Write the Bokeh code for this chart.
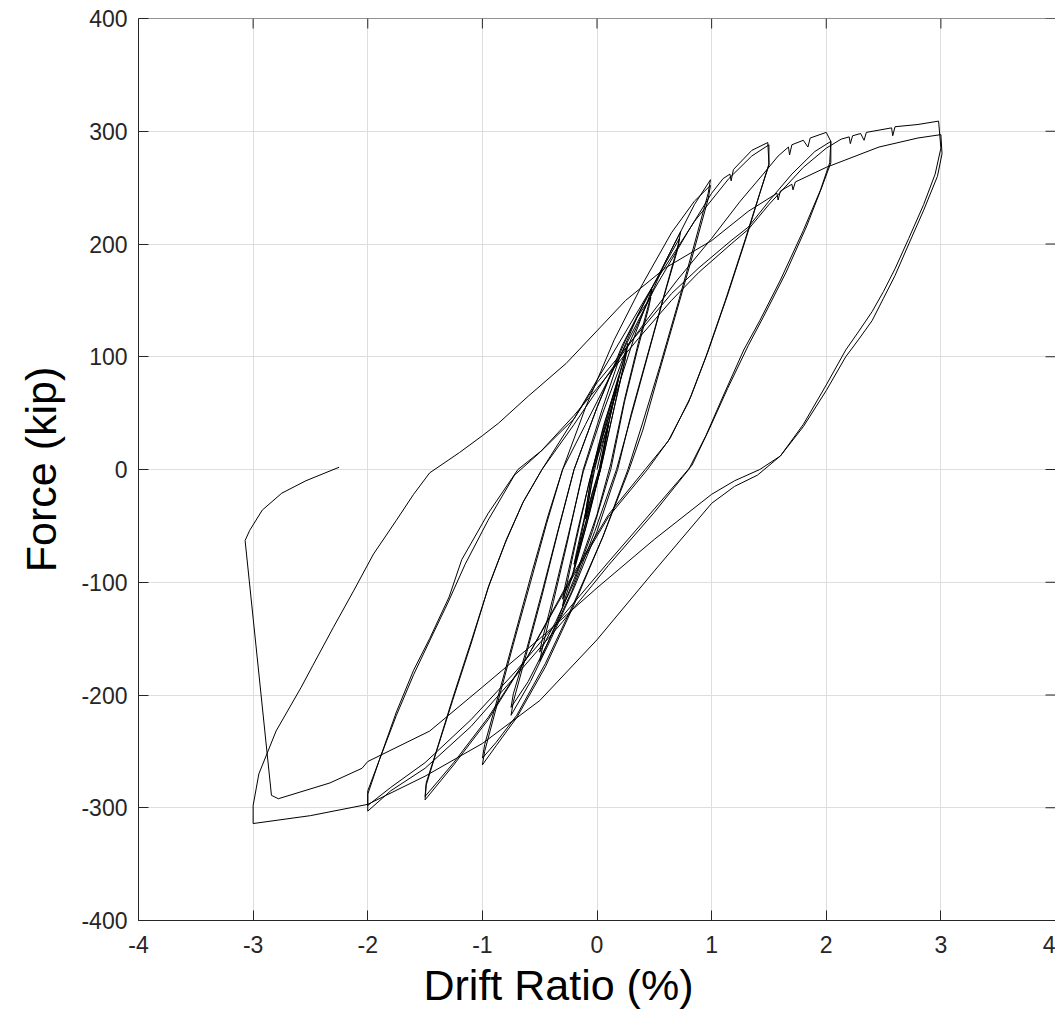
from bokeh.plotting import figure
from bokeh.models import Range1d, FixedTicker, LinearAxis, Span, Title
from bokeh.embed import file_html
from bokeh.resources import INLINE

# ---------------- data: (drift ratio %, force kip) ----------------
loops_010_030 = [
    (0.00, 0), (0.05, 22), (0.10, 42), (0.09, 36), (0.05, 16), (0.02, 0), (-0.04, -22), (-0.10, -44),
    (-0.09, -38), (-0.06, -20), (-0.03, 0), (0.04, 22), (0.10, 40), (0.09, 34), (0.05, 14), (0.02, 0),
    (-0.04, -20), (-0.10, -42), (-0.09, -36), (-0.05, -15), (-0.02, 0),
    (0.06, 35), (0.19, 82), (0.17, 72), (0.10, 40), (0.03, 0), (-0.08, -40), (-0.20, -88), (-0.18, -78),
    (-0.11, -45), (-0.04, 0), (0.06, 40), (0.18, 78), (0.16, 68), (0.09, 35), (0.03, 0), (-0.09, -44),
    (-0.20, -84), (-0.18, -74), (-0.10, -38), (-0.04, 0),
    (0.10, 45), (0.27, 112), (0.25, 100), (0.15, 55), (0.05, 8), (-0.08, -45), (-0.20, -90),
    (-0.30, -121), (-0.28, -110), (-0.18, -62), (-0.07, -12), (0.06, 38), (0.18, 80), (0.26, 106),
    (0.24, 95), (0.14, 50), (0.04, 5), (-0.10, -52), (-0.22, -95), (-0.30, -115), (-0.28, -104),
    (-0.16, -50), (-0.06, -8),
]
loops_050 = [
    (0.05, 30), (0.20, 78), (0.34, 122), (0.48, 160), (0.46, 150), (0.36, 112), (0.24, 62), (0.12, 5),
    (0.00, -40), (-0.18, -92), (-0.35, -135), (-0.50, -170), (-0.48, -160), (-0.38, -117), (-0.26, -65),
    (-0.12, 0), (0.05, 55), (0.20, 100), (0.35, 135), (0.47, 153), (0.45, 143), (0.35, 105), (0.24, 60),
    (0.12, 0), (-0.04, -55), (-0.20, -100), (-0.36, -135), (-0.50, -162), (-0.48, -152), (-0.37, -108),
    (-0.25, -58), (-0.12, -2),
]
loops_075 = [
    (0.05, 50), (0.25, 105), (0.45, 150), (0.60, 185), (0.73, 211), (0.71, 200), (0.60, 160), (0.45, 105),
    (0.30, 50), (0.18, 0), (0.00, -55), (-0.20, -105), (-0.40, -150), (-0.58, -188), (-0.75, -218),
    (-0.73, -206), (-0.62, -165), (-0.48, -112), (-0.34, -55), (-0.20, 0), (0.00, 55), (0.22, 110),
    (0.42, 150), (0.58, 180), (0.72, 205), (0.70, 194), (0.58, 152), (0.44, 100), (0.30, 48), (0.17, 0),
    (-0.02, -55), (-0.22, -108), (-0.42, -152), (-0.60, -188), (-0.75, -211), (-0.73, -199),
    (-0.61, -158), (-0.47, -105), (-0.33, -50), (-0.20, 0),
]
loops_100 = [
    (0.00, 55), (0.25, 115), (0.50, 165), (0.70, 205), (0.85, 235), (0.99, 257), (0.97, 245), (0.85, 200),
    (0.70, 145), (0.55, 92), (0.40, 42), (0.27, 0), (0.05, -60), (-0.20, -120), (-0.45, -175),
    (-0.70, -220), (-0.88, -245), (-1.00, -262), (-0.98, -250), (-0.87, -208), (-0.73, -155),
    (-0.58, -100), (-0.44, -48), (-0.30, 0), (-0.10, 55), (0.15, 115), (0.40, 165), (0.65, 210),
    (0.85, 238), (0.99, 252), (0.97, 240), (0.84, 192), (0.68, 135), (0.53, 82), (0.40, 35), (0.28, 0),
    (0.05, -60), (-0.20, -118), (-0.45, -172), (-0.70, -218), (-0.88, -242), (-1.00, -256),
    (-0.98, -244), (-0.86, -200), (-0.72, -148), (-0.57, -92), (-0.43, -42), (-0.30, 0),
]
loops_150 = [
    (-0.10, 40), (0.20, 100), (0.50, 160), (0.80, 212), (1.00, 245), (1.10, 258), (1.16, 262), (1.17, 256),
    (1.19, 266), (1.35, 283), (1.49, 290), (1.50, 271), (1.42, 245), (1.28, 200), (1.12, 150),
    (0.95, 100), (0.80, 60), (0.62, 25), (0.42, 0), (0.10, -40), (-0.25, -100), (-0.60, -165),
    (-0.95, -222), (-1.25, -262), (-1.50, -293), (-1.49, -280), (-1.40, -250), (-1.26, -205),
    (-1.10, -155), (-0.95, -105), (-0.80, -65), (-0.65, -30), (-0.48, 0), (-0.20, 45), (0.15, 105),
    (0.50, 165), (0.85, 220), (1.15, 258), (1.35, 278), (1.50, 288), (1.50, 270), (1.43, 248),
    (1.30, 205), (1.14, 155), (0.97, 105), (0.82, 65), (0.64, 28), (0.44, 0), (0.10, -42),
    (-0.25, -102), (-0.60, -165), (-0.95, -220), (-1.25, -260), (-1.50, -290), (-1.49, -278),
    (-1.39, -246), (-1.25, -200), (-1.09, -150), (-0.94, -102), (-0.79, -62), (-0.64, -28), (-0.48, 0),
]
loops_200 = [
    (-0.20, 40), (0.10, 85), (0.40, 128), (0.70, 168), (1.00, 205), (1.25, 238), (1.45, 262),
    (1.58, 278), (1.67, 286), (1.68, 279), (1.70, 288), (1.80, 292), (1.84, 286), (1.86, 294),
    (2.00, 299), (2.04, 291), (2.03, 272), (1.95, 248), (1.80, 212), (1.60, 168), (1.42, 132),
    (1.28, 106), (1.10, 65), (0.95, 30), (0.80, 0), (0.50, -38), (0.10, -85), (-0.30, -135),
    (-0.70, -182), (-1.10, -228), (-1.50, -265), (-1.80, -285), (-2.00, -303), (-2.00, -288),
    (-1.90, -258), (-1.75, -215), (-1.60, -178), (-1.46, -150), (-1.29, -113), (-1.18, -80),
    (-0.95, -39), (-0.69, 0), (-0.48, 17), (-0.20, 45), (0.00, 77), (0.36, 121), (0.65, 156),
    (0.89, 179), (1.17, 203), (1.32, 215), (1.50, 238), (1.70, 262), (1.90, 282), (2.04, 291),
    (2.04, 272), (1.96, 250), (1.83, 216), (1.65, 175), (1.45, 135), (1.32, 110), (1.14, 72),
    (0.98, 36), (0.83, 4), (0.50, -35), (0.10, -82), (-0.30, -130), (-0.70, -178), (-1.10, -222),
    (-1.50, -260), (-1.80, -282), (-2.00, -298),
]
loops_300 = [
    (-2.00, -285), (-1.90, -258), (-1.75, -218), (-1.60, -182), (-1.46, -152), (-1.30, -118),
    (-1.15, -84), (-0.95, -45), (-0.72, -5), (-0.50, 15), (-0.20, 48), (0.00, 72), (0.36, 116),
    (0.65, 150), (0.89, 175), (1.17, 200), (1.32, 213), (1.50, 235), (1.80, 268), (2.00, 285),
    (2.13, 293), (2.20, 295), (2.21, 289), (2.23, 296), (2.30, 298), (2.33, 292), (2.35, 299),
    (2.57, 303), (2.58, 296), (2.60, 304), (2.80, 306), (2.98, 309), (3.00, 285), (2.95, 262),
    (2.85, 235), (2.72, 205), (2.60, 178), (2.50, 158), (2.40, 140), (2.28, 122), (2.17, 106),
    (2.00, 75), (1.80, 40), (1.60, 12), (1.40, -5), (1.20, -15), (1.00, -30), (0.50, -90),
    (0.00, -151), (-0.50, -205), (-1.00, -243), (-1.50, -272), (-2.00, -297), (-2.50, -307),
    (-3.00, -314), (-3.00, -298), (-2.95, -270), (-2.80, -232), (-2.58, -193), (-2.48, -174),
    (-2.30, -140), (-2.12, -107), (-1.95, -75), (-1.75, -45), (-1.60, -22), (-1.46, -3), (-1.20, 15),
    (-1.00, 30), (-0.86, 41), (-0.60, 65), (-0.27, 94), (0.00, 123), (0.25, 150), (0.60, 179),
    (1.00, 203), (1.32, 229), (1.57, 245), (1.58, 239), (1.60, 247), (1.70, 253), (1.71, 248),
    (1.73, 255), (2.00, 268), (2.46, 286), (2.80, 294), (3.00, 297),
]
final_run = [
    (3.01, 280), (2.97, 260), (2.85, 230), (2.72, 200), (2.60, 172), (2.50, 152), (2.40, 132),
    (2.28, 115), (2.17, 100), (2.00, 70), (1.80, 38), (1.60, 12), (1.42, 0), (1.20, -10), (1.00, -22),
    (0.50, -62), (0.00, -105), (-0.50, -150), (-1.00, -193), (-1.46, -232), (-2.00, -259),
    (-2.05, -265), (-2.33, -278), (-2.78, -292), (-2.84, -289), (-3.07, -63), (-3.03, -54),
    (-2.92, -36), (-2.75, -21), (-2.54, -10), (-2.25, 2),
]

x_ticks = [-4, -3, -2, -1, 0, 1, 2, 3, 4]
y_ticks = [-400, -300, -200, -100, 0, 100, 200, 300, 400]
x_label = "Drift Ratio (%)"
y_label = "Force (kip)"

history = loops_010_030 + loops_050 + loops_075 + loops_100 + loops_150 + loops_200 + loops_300 + final_run
drift = [d for d, f in history]
force = [f for d, f in history]

# ---------------- figure ----------------
FONT = "Liberation Sans"
AX = "#262626"
W, H = 1055, 1016
BL, BR, BT, BB = 138, 0, 18, 96
FW, FH = W - BL - BR, H - BT - BB
px_x = (x_ticks[-1] - x_ticks[0]) / FW   # drift per pixel
px_y = (y_ticks[-1] - y_ticks[0]) / FH   # kip per pixel

p = figure(width=W, height=H, x_range=Range1d(x_ticks[0], x_ticks[-1]),
           y_range=Range1d(y_ticks[0], y_ticks[-1]),
           output_backend="svg", toolbar_location=None,
           min_border_left=BL, min_border_right=BR, min_border_top=BT, min_border_bottom=BB,
           x_axis_location=None, y_axis_location=None)
p.outline_line_color = None
p.background_fill_color = "white"
p.border_fill_color = "white"


def style(ax):
    ax.major_tick_in = 10
    ax.major_tick_out = 0
    ax.minor_tick_line_color = None
    ax.axis_line_color = AX
    ax.major_tick_line_color = AX
    ax.axis_line_width = 1
    ax.major_tick_line_width = 1
    ax.major_label_text_font = FONT
    ax.major_label_text_font_size = "23px"
    ax.major_label_text_color = AX


xb = LinearAxis(ticker=FixedTicker(ticks=x_ticks),
                major_label_overrides={t: str(t) for t in x_ticks})
style(xb)
xb.major_label_standoff = 15
p.add_layout(xb, "below")

yl = LinearAxis(ticker=FixedTicker(ticks=y_ticks),
                major_label_overrides={t: str(t) for t in y_ticks})
style(yl)
yl.major_label_standoff = 11
p.add_layout(yl, "left")

# axis titles as layout titles so they can be placed like the reference
p.add_layout(Title(text=x_label, text_font=FONT, text_font_size="43px", text_font_style="normal",
                   text_color="black", align="left", offset=285, standoff=7), "below")
p.add_layout(Title(text=y_label, text_font=FONT, text_font_size="43px", text_font_style="normal",
                   text_color="black", align="center", offset=0, standoff=28), "left")

# box: top edge and inward ticks on the top and right edges
p.add_layout(Span(location=y_ticks[-1], dimension="width", line_color=AX, line_width=1))
p.segment(x0=x_ticks, x1=x_ticks, y0=[y_ticks[-1]] * len(x_ticks),
          y1=[y_ticks[-1] - 10 * px_y] * len(x_ticks), line_color=AX, line_width=1)
p.segment(x0=[x_ticks[-1]] * len(y_ticks), x1=[x_ticks[-1] - 10 * px_x] * len(y_ticks),
          y0=y_ticks, y1=y_ticks, line_color=AX, line_width=1)

p.xgrid.ticker = FixedTicker(ticks=x_ticks)
p.ygrid.ticker = FixedTicker(ticks=y_ticks)
for g in (p.xgrid, p.ygrid):
    g.grid_line_color = "#dedede"
    g.grid_line_width = 1

p.line(drift, force, line_color="black", line_width=1)

open("out.html", "w").write(file_html(p, INLINE))
